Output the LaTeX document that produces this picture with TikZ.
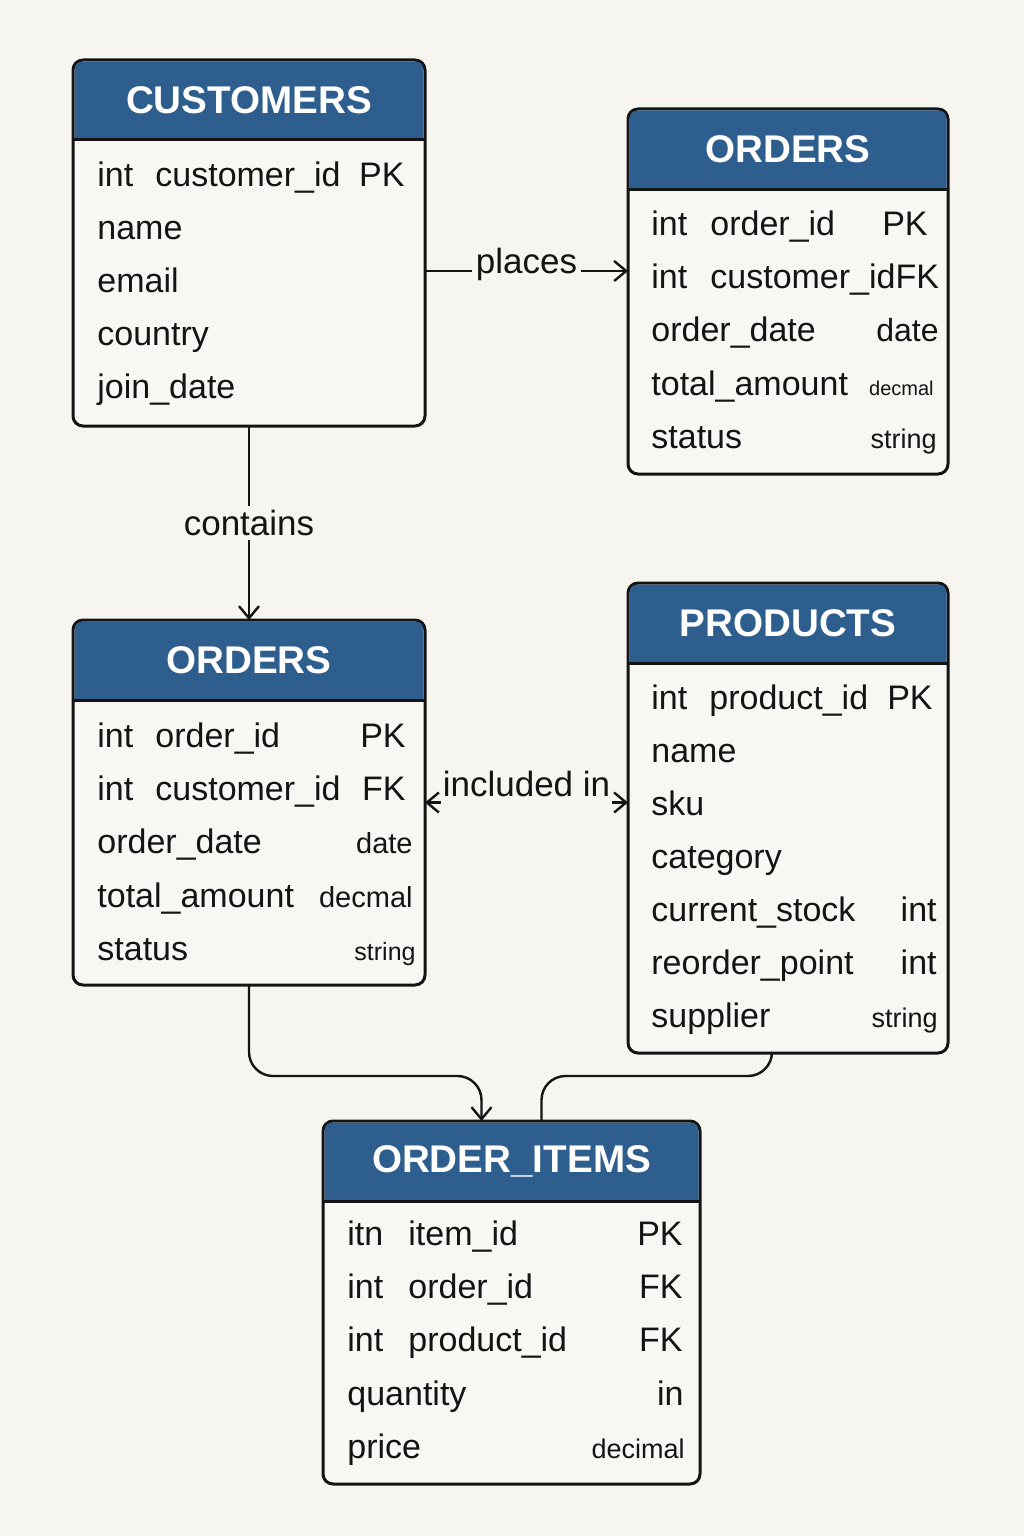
\documentclass[tikz,border=0pt]{standalone}
\usepackage{fontspec}
\setmainfont{Liberation Sans}
\usetikzlibrary{arrows.meta, positioning, calc}
\definecolor{headblue}{RGB}{46, 94, 142}
\definecolor{paper}{RGB}{247, 245, 240}
\definecolor{cardfill}{RGB}{249, 247, 243}
\definecolor{ink}{RGB}{20, 20, 20}

% blue title band of a table node
\newcommand{\erhead}[2]{%
  \fill[headblue, rounded corners=4pt] ([shift={(0.75pt,-40pt)}]#1.north west) -- ([shift={(0.75pt,-0.75pt)}]#1.north west) -- ([shift={(-0.75pt,-0.75pt)}]#1.north east) [sharp corners] -- ([shift={(-0.75pt,-40pt)}]#1.north east) -- cycle;
  \draw[ink, line width=1.5pt] ([yshift=-40pt]#1.north west) -- ([yshift=-40pt]#1.north east);
  \node[title] (#1-title) at ([yshift=-20pt]#1.north) {#2};
}

\begin{document}
\begin{tikzpicture}[
        x=0.5pt, y=-0.5pt,
        tbl/.style={rectangle, draw=ink, fill=cardfill, line width=1.5pt, rounded corners=5pt, inner sep=0pt, outer sep=0pt},
        title/.style={text=white, font=\fontsize{19.3}{22}\selectfont\bfseries},
        field/.style={anchor=base west, inner sep=0pt, text=ink, font=\fontsize{17}{20}\selectfont},
        kind/.style={anchor=base east, inner sep=0pt, text=ink, font=\fontsize{17}{20}\selectfont},
        rel/.style={fill=paper, inner sep=2pt, text=ink, font=\fontsize{17.5}{20}\selectfont},
        link/.style={ink, line width=1.2pt, -{Straight Barb[length=6pt, width=10pt]}}
    ]
        \fill[paper] (0,0) rectangle (1024,1536);

        % tables
        \node[tbl, minimum width=176pt, minimum height=183pt] (cust) at (249,243) {};
        \node[tbl, minimum width=160pt, minimum height=182.5pt] (ordtr) at (788,291.5) {};
        \node[tbl, minimum width=176pt, minimum height=182.5pt] (ordm) at (249,802.5) {};
        \node[tbl, minimum width=160pt, minimum height=235pt] (prod) at (788,818) {};
        \node[tbl, minimum width=188.5pt, minimum height=181.5pt] (oi) at (511.5,1302.5) {};

        \erhead{cust}{CUSTOMERS}
        \erhead{ordtr}{ORDERS}
        \erhead{ordm}{ORDERS}
        \erhead{prod}{PRODUCTS}
        \erhead{oi}{ORDER\_ITEMS}

        % CUSTOMERS
        \node[field] (cust-t1) at (97,186) {int};
        \node[field] (cust-f1) at (155,186) {customer\_id};
        \node[kind] (cust-k1) at (405,186) {PK};
        \foreach \f [count=\i from 2] in {name, email, country, join\_date}
            \node[field] (cust-f\i) at (97,{186+53*(\i-1)}) {\f};

        % ORDERS (top)
        \node[field] (ordtr-t1) at (651,235) {int};
        \node[field] (ordtr-f1) at (710,235) {order\_id};
        \node[kind] (ordtr-k1) at (928,235) {PK};
        \node[field] (ordtr-t2) at (651,288) {int};
        \node[field] (ordtr-f2) at (710,288) {customer\_idFK};
        \node[field] (ordtr-f3) at (651,341) {order\_date};
        \node[kind, font=\fontsize{16}{18}\selectfont] (ordtr-k3) at (939,341) {date};
        \node[field] (ordtr-f4) at (651,395) {total\_amount};
        \node[kind, font=\fontsize{10}{12}\selectfont] (ordtr-k4) at (934,395) {decmal};
        \node[field] (ordtr-f5) at (651,448) {status};
        \node[kind, font=\fontsize{13.5}{16}\selectfont] (ordtr-k5) at (937,448) {string};

        % ORDERS (middle)
        \node[field] (ordm-t1) at (97,747) {int};
        \node[field] (ordm-f1) at (155,747) {order\_id};
        \node[kind] (ordm-k1) at (406,747) {PK};
        \node[field] (ordm-t2) at (97,800) {int};
        \node[field] (ordm-f2) at (155,800) {customer\_id};
        \node[kind] (ordm-k2) at (406,800) {FK};
        \node[field] (ordm-f3) at (97,853) {order\_date};
        \node[kind, font=\fontsize{14.5}{17}\selectfont] (ordm-k3) at (413,853) {date};
        \node[field] (ordm-f4) at (97,907) {total\_amount};
        \node[kind, font=\fontsize{14.5}{17}\selectfont] (ordm-k4) at (413,907) {decmal};
        \node[field] (ordm-f5) at (97,960) {status};
        \node[kind, font=\fontsize{12.5}{15}\selectfont] (ordm-k5) at (416,960) {string};

        % PRODUCTS
        \node[field] (prod-t1) at (651,709) {int};
        \node[field] (prod-f1) at (709,709) {product\_id};
        \node[kind] (prod-k1) at (933,709) {PK};
        \foreach \f [count=\i from 2] in {name, sku, category}
            \node[field] (prod-f\i) at (651,{709+53*(\i-1)}) {\f};
        \node[field] (prod-f5) at (651,921) {current\_stock};
        \node[kind] (prod-k5) at (937,921) {int};
        \node[field] (prod-f6) at (651,974) {reorder\_point};
        \node[kind] (prod-k6) at (937,974) {int};
        \node[field] (prod-f7) at (651,1027) {supplier};
        \node[kind, font=\fontsize{13.5}{16}\selectfont] (prod-k7) at (938,1027) {string};

        % ORDER_ITEMS
        \node[field] (oi-t1) at (347,1245) {itn};
        \node[field] (oi-f1) at (408,1245) {item\_id};
        \node[kind] (oi-k1) at (683,1245) {PK};
        \node[field] (oi-t2) at (347,1298) {int};
        \node[field] (oi-f2) at (408,1298) {order\_id};
        \node[kind] (oi-k2) at (683,1298) {FK};
        \node[field] (oi-t3) at (347,1351) {int};
        \node[field] (oi-f3) at (408,1351) {product\_id};
        \node[kind] (oi-k3) at (683,1351) {FK};
        \node[field] (oi-f4) at (347,1405) {quantity};
        \node[kind] (oi-k4) at (684,1405) {in};
        \node[field] (oi-f5) at (347,1458) {price};
        \node[kind, font=\fontsize{13.5}{16}\selectfont] (oi-k5) at (685,1458) {decimal};

        % relations
        \coordinate (placesstart) at ([yshift=-14pt]cust.east);
        \draw[link] (placesstart) -- node[rel, yshift=3.5pt] (places) {places} (placesstart -| ordtr.west);
        \draw[link] (cust.south) -- node[rel] (contains) {contains} (ordm.north);
        \draw[ink, line width=1.2pt, {Straight Barb[length=6pt, width=10pt]}-{Straight Barb[length=6pt, width=10pt]}] (ordm.east) -- node[rel, yshift=9.25pt, inner xsep=1pt, inner ysep=4.5pt] (included) {included in} (ordm.east -| prod.west);
        \draw[link, rounded corners=12pt] (ordm.south) |- ([shift={(-15pt,22.5pt)}]oi.north) -- ([xshift=-15pt]oi.north);
        \draw[ink, line width=1.2pt, rounded corners=12pt] ([xshift=-8pt]prod.south) |- ([shift={(15pt,22.5pt)}]oi.north) -- ([xshift=15pt]oi.north);
    \end{tikzpicture}
\end{document}
